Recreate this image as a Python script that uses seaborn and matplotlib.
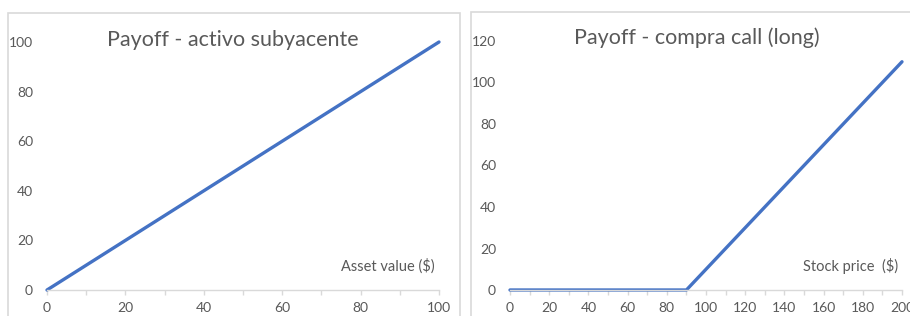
import matplotlib
matplotlib.use("Agg")
import matplotlib.pyplot as plt
import seaborn as sns
import pandas as pd
from matplotlib.patches import Rectangle
from matplotlib.ticker import MultipleLocator

# Data
asset_x = [0, 10, 20, 30, 40, 50, 60, 70, 80, 90, 100]
asset_y = [0, 10, 20, 30, 40, 50, 60, 70, 80, 90, 100]
stock_x = [0, 10, 20, 30, 40, 50, 60, 70, 80, 90, 100, 110, 120, 130, 140, 150,
           160, 170, 180, 190, 200]
call_y = [0, 0, 0, 0, 0, 0, 0, 0, 0, 0, 10, 20, 30, 40, 50, 60, 70, 80, 90, 100, 110]

title_left = "Payoff - activo subyacente"
title_right = "Payoff - compra call (long)"
xlabel_left = "Asset value ($)"
xlabel_right = "Stock price  ($)"

sns.set_theme(style="white")
plt.rcParams['font.family'] = ['Lato', 'DejaVu Sans']

W, H = 910, 316
fig = plt.figure(figsize=(W / 100, H / 100), dpi=100)
fig.patch.set_facecolor("white")

GRAY_TXT = "#595959"
AXIS_C = "#d9d9d9"
LINE_C = "#4472C4"

# Chart frames
fig.patches.append(Rectangle((8 / W, -0.1), (460 - 8) / W, 1.1 - 13 / H,
                             transform=fig.transFigure, fill=False,
                             edgecolor=AXIS_C, linewidth=1.2))
fig.patches.append(Rectangle((471 / W, -0.1), 0.5, 1.1 - 12 / H,
                             transform=fig.transFigure, fill=False,
                             edgecolor=AXIS_C, linewidth=1.2))


def make_ax(x0, x1, ytop, ymax, x, y, xmax, title, tcx, tcy, xlabel, xlab_right):
    ybot = 290
    ax = fig.add_axes([x0 / W, 1 - ybot / H, (x1 - x0) / W, (ybot - ytop) / H])
    df = pd.DataFrame({"x": x, "y": y})
    sns.lineplot(data=df, x="x", y="y", ax=ax, color=LINE_C, linewidth=2.4,
                 clip_on=False)
    ax.set_xlim(0, xmax)
    ax.set_ylim(0, ymax)
    ax.set_facecolor("none")
    for s in ["top", "right", "left"]:
        ax.spines[s].set_visible(False)
    ax.spines["bottom"].set_color(AXIS_C)
    ax.spines["bottom"].set_linewidth(1.0)
    ax.xaxis.set_major_locator(MultipleLocator(20))
    ax.xaxis.set_minor_locator(MultipleLocator(10))
    ax.yaxis.set_major_locator(MultipleLocator(20))
    ax.tick_params(axis="x", which="both", direction="out", length=3.5,
                   width=1.0, color=AXIS_C, labelsize=10, labelcolor=GRAY_TXT,
                   pad=5, bottom=True)
    ax.tick_params(axis="y", which="both", length=0, labelsize=10,
                   labelcolor=GRAY_TXT, pad=10)
    ax.set_xlabel("")
    ax.set_ylabel("")
    fig.text(tcx / W, 1 - tcy / H, title, ha="center", va="center",
             fontsize=15.5, color=GRAY_TXT)
    fig.text(xlab_right / W, 1 - 266 / H, xlabel, ha="right", va="center",
             fontsize=10.5, color=GRAY_TXT)
    return ax


make_ax(47, 439, 42, 100, asset_x, asset_y, 100, title_left, 233, 40,
        xlabel_left, 435)
make_ax(510, 902, 41, 120, stock_x, call_y, 200, title_right, 697, 38,
        xlabel_right, 898)

fig.savefig("out.png", dpi=100, facecolor="white")
